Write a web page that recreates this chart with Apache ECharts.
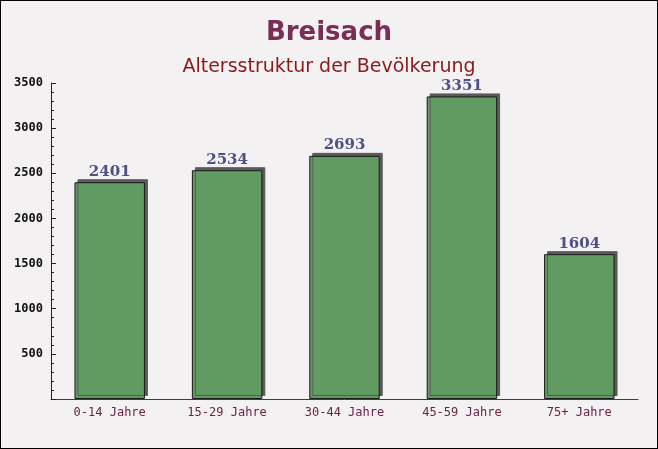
<!DOCTYPE html>
<html><head><meta charset="utf-8">
<script src="https://cdn.jsdelivr.net/npm/echarts@6/dist/echarts.min.js"></script>
<style>html,body{margin:0;padding:0;background:#f3f1f2;}#c{width:656px;height:447px;border:1px solid #000;}</style>
</head><body><div id="c"></div>
<script>
var categories = ["0-14 Jahre","15-29 Jahre","30-44 Jahre","45-59 Jahre","75+ Jahre"];
var values = [2401, 2534, 2693, 3351, 1604];
var yTicks = [500, 1000, 1500, 2000, 2500, 3000, 3500];
var chart = echarts.init(document.getElementById('c'));
chart.setOption({
  backgroundColor: '#f3f1f2',
  title: [
    {text: 'Breisach', left: 'center', top: 14, textStyle: {fontFamily: 'DejaVu Sans', fontWeight: 'bold', fontSize: 26, color: '#7a2d55'}},
    {text: 'Altersstruktur der Bevölkerung', left: 'center', top: 52, textStyle: {fontFamily: 'DejaVu Sans', fontWeight: 'normal', fontSize: 19, color: '#8b1a1a'}}
  ],
  grid: {left: 50, right: 19, top: 82, bottom: 49},
  xAxis: {
    type: 'category', data: categories,
    axisLine: {lineStyle: {color: '#6b2346', width: 1}},
    axisTick: {inside: true, length: 4, lineStyle: {color: '#6b2346'}},
    axisLabel: {fontFamily: 'DejaVu Sans Mono', fontSize: 12, color: '#6b2346', margin: 8}
  },
  yAxis: {
    type: 'value', min: 0, max: 3500, interval: 500,
    axisLine: {show: true, lineStyle: {color: '#222'}},
    axisTick: {show: true, inside: true, length: 5, lineStyle: {color: '#222'}},
    minorTick: {show: true, splitNumber: 5, length: 3, lineStyle: {color: '#222'}},
    splitLine: {show: false},
    axisLabel: {fontFamily: 'DejaVu Sans Mono', fontWeight: 'bold', fontSize: 12, color: '#111', margin: 8,
      formatter: function(v){ return yTicks.indexOf(v) >= 0 ? String(v) : ''; }}
  },
  series: [{
    type: 'bar', data: values, barWidth: '60%',
    itemStyle: {color: '#629b62', borderColor: '#1a1a1a', borderWidth: 1,
      shadowColor: '#5a5a5a', shadowBlur: 0, shadowOffsetX: 3, shadowOffsetY: -3},
    label: {show: true, position: 'top', distance: 3, fontFamily: 'DejaVu Serif', fontWeight: 'bold', fontSize: 15, color: '#4f5185'}
  }]
});
</script></body></html>
